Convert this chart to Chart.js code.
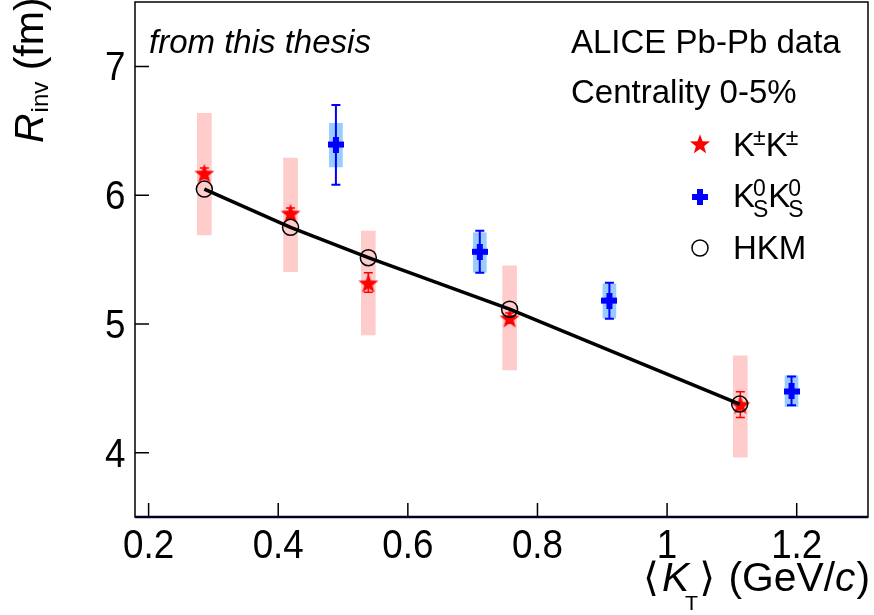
<!DOCTYPE html>
<html><head><meta charset="utf-8">
<script src="https://cdn.jsdelivr.net/npm/chart.js@4/dist/chart.umd.min.js"></script>
<style>html,body{margin:0;padding:0;background:#fff;}canvas{display:block;}</style>
</head><body>
<canvas id="c" width="874" height="615"></canvas>
<script>
// ---- data ----
const kT_KK   = [0.286, 0.419, 0.539, 0.757, 1.113];
const R_KK    = [6.168, 5.858, 5.316, 5.044, 4.372];
const statKK_lo = [6.13, 5.82, 5.246, 5.005, 4.272];
const statKK_hi = [6.21, 5.90, 5.398, 5.085, 4.472];
const sysKK_lo  = [5.690, 5.405, 4.915, 4.643, 3.964];
const sysKK_hi  = [6.636, 6.287, 5.721, 5.450, 4.752];

const kT_K0   = [0.489, 0.711, 0.911, 1.192];
const R_K0    = [6.393, 5.560, 5.181, 4.475];
const statK0_lo = [6.080, 5.398, 5.039, 4.367];
const statK0_hi = [6.700, 5.723, 5.320, 4.591];
const sysK0_lo  = [6.219, 5.401, 5.044, 4.357];
const sysK0_hi  = [6.558, 5.708, 5.310, 4.597];

const kT_HKM  = [0.286, 0.419, 0.539, 0.757, 1.112];
const R_HKM   = [6.047, 5.750, 5.514, 5.114, 4.377];

const xTicks = [0.2, 0.4, 0.6, 0.8, 1.0, 1.2];
const xTickLabels = ['0.2', '0.4', '0.6', '0.8', '1', '1.2'];
const yTicks = [4, 5, 6, 7];
const yTickLabels = ['4', '5', '6', '7'];

// ---- marker images ----
function starImg(color) {
  const c = document.createElement('canvas'); c.width = 22; c.height = 22;
  const g = c.getContext('2d'); g.fillStyle = color; g.beginPath();
  for (let i = 0; i < 10; i++) {
    const r = i % 2 === 0 ? 10.5 : 4.3;
    const a = -Math.PI / 2 + i * Math.PI / 5;
    const px = 11 + r * Math.cos(a), py = 11.8 + r * Math.sin(a);
    i === 0 ? g.moveTo(px, py) : g.lineTo(px, py);
  }
  g.closePath(); g.fill(); return c;
}
function crossImg(color) {
  const c = document.createElement('canvas'); c.width = 16; c.height = 16;
  const g = c.getContext('2d'); g.fillStyle = color;
  g.fillRect(0, 5, 16, 6); g.fillRect(5, 0, 6, 16); return c;
}
const STAR = starImg('#ff0000');
const CROSS = crossImg('#0000ff');

const FONT = '"Liberation Sans", Arial, "DejaVu Sans", sans-serif';

function errBars(chart, xs, lo, hi, color, lw, cap) {
  const ctx = chart.ctx, xs_ = chart.scales.x, ys_ = chart.scales.y;
  ctx.save(); ctx.strokeStyle = color; ctx.lineWidth = lw;
  for (let i = 0; i < xs.length; i++) {
    const px = xs_.getPixelForValue(xs[i]);
    const y1 = ys_.getPixelForValue(lo[i]), y2 = ys_.getPixelForValue(hi[i]);
    ctx.beginPath();
    ctx.moveTo(px, y1); ctx.lineTo(px, y2);
    ctx.moveTo(px - cap, y1); ctx.lineTo(px + cap, y1);
    ctx.moveTo(px - cap, y2); ctx.lineTo(px + cap, y2);
    ctx.stroke();
  }
  ctx.restore();
}

function narrowText(ctx, text, x, y, align, sc) {
  ctx.save(); ctx.translate(x, y); ctx.scale(sc, 1);
  ctx.textAlign = align; ctx.fillText(text, 0, 0); ctx.restore();
}

const decor = {
  id: 'decor',
  beforeDatasetDraw(chart, args) {
    if (args.index === 2) errBars(chart, kT_KK, statKK_lo, statKK_hi, '#ff0000', 1.5, 4.5);
    if (args.index === 3) errBars(chart, kT_K0, statK0_lo, statK0_hi, '#0000ff', 2, 4.5);
  },
  afterDraw(chart) {
    const ctx = chart.ctx, a = chart.chartArea, sx = chart.scales.x, sy = chart.scales.y;
    ctx.save();
    // frame
    ctx.strokeStyle = '#000'; ctx.lineWidth = 1.5;
    ctx.strokeRect(a.left, a.top, a.right - a.left, a.bottom - a.top);
    ctx.strokeStyle = '#000022'; ctx.lineWidth = 2.5;
    ctx.beginPath(); ctx.moveTo(a.left, a.bottom); ctx.lineTo(a.right, a.bottom); ctx.stroke();
    // ticks
    ctx.strokeStyle = '#000'; ctx.lineWidth = 1.5;
    ctx.beginPath();
    xTicks.forEach(v => { const p = sx.getPixelForValue(v); ctx.moveTo(p, a.bottom); ctx.lineTo(p, a.bottom - 14); });
    yTicks.forEach(v => { const p = sy.getPixelForValue(v); ctx.moveTo(a.left, p); ctx.lineTo(a.left + 14, p); });
    ctx.stroke();
    // tick labels
    ctx.fillStyle = '#000';
    ctx.font = '40px ' + FONT; ctx.textBaseline = 'alphabetic';
    xTicks.forEach((v, i) => narrowText(ctx, xTickLabels[i], sx.getPixelForValue(v), 558, 'center', 0.92));
    yTicks.forEach((v, i) => narrowText(ctx, yTickLabels[i], 125.5, sy.getPixelForValue(v) + 14, 'right', 0.92));
    ctx.textAlign = 'left';

    // x title
    const parts = [
      { t: '\u27E8', f: '40px ' + FONT, dy: 0 },
      { t: 'K', f: 'italic 40px ' + FONT, dy: 0, dx: 3 },
      { t: 'T', f: '21px ' + FONT, dy: 19, dx: -4 },
      { t: '\u27E9', f: '40px ' + FONT, dy: 0, dx: 1 },
      { t: ' (GeV/', f: '40px ' + FONT, dy: 0, dx: 2 },
      { t: 'c', f: 'italic 40px ' + FONT, dy: 0 },
      { t: ')', f: '40px ' + FONT, dy: 0, dx: 1 }
    ];
    let tot = 0;
    parts.forEach(p => { ctx.font = p.f; p.w = ctx.measureText(p.t).width; tot += p.w + (p.dx || 0); });
    const sc = Math.max(0.85, Math.min(1.05, 227 / tot));
    ctx.save(); ctx.translate(643, 591); ctx.scale(sc, 1);
    let cx = 0;
    parts.forEach(p => { ctx.font = p.f; cx += (p.dx || 0); ctx.fillText(p.t, cx, p.dy); cx += p.w; });
    ctx.restore();

    // y title
    ctx.save(); ctx.translate(43, 143); ctx.rotate(-Math.PI / 2);
    ctx.font = 'italic 41px ' + FONT; ctx.fillText('R', 0, 0);
    let yx = ctx.measureText('R').width + 1;
    ctx.font = '24px ' + FONT; ctx.fillText('inv', yx, 5);
    yx += ctx.measureText('inv').width;
    ctx.font = '41px ' + FONT; ctx.fillText(' (fm)', yx, 0);
    ctx.restore();

    // annotations
    ctx.font = 'italic 33px ' + FONT; ctx.fillText('from this thesis', 149, 53);
    ctx.font = '33px ' + FONT;
    ctx.fillText('ALICE Pb-Pb data', 571, 53);
    ctx.fillText('Centrality 0-5%', 571, 103);

    // legend
    ctx.drawImage(STAR, 700 - 11, 144 - 11);
    ctx.drawImage(CROSS, 700 - 8, 197 - 8);
    ctx.lineWidth = 1.5; ctx.strokeStyle = '#000';
    ctx.beginPath(); ctx.arc(700, 248, 8, 0, Math.PI * 2); ctx.stroke();

    function kWithScripts(x, y, sup, sub) {
      ctx.font = '33px ' + FONT; ctx.fillText('K', x, y);
      let w = ctx.measureText('K').width - 2;
      ctx.font = '23px ' + FONT;
      let sw = 0;
      if (sup) { ctx.fillText(sup, x + w, y - 11); sw = Math.max(sw, ctx.measureText(sup).width); }
      if (sub) { ctx.fillText(sub, x + w, y + 10); sw = Math.max(sw, ctx.measureText(sub).width); }
      return x + w + sw;
    }
    let lx = kWithScripts(733, 156, '\u00B1', null);
    kWithScripts(lx, 156, '\u00B1', null);
    lx = kWithScripts(733, 207, '0', 'S');
    kWithScripts(lx, 207, '0', 'S');
    ctx.font = '33px ' + FONT; ctx.fillText('HKM', 733, 259);
    ctx.restore();
  }
};

new Chart(document.getElementById('c'), {
  data: {
    datasets: [
      { type: 'bar', data: kT_KK.map((x, i) => ({ x, y: [sysKK_lo[i], sysKK_hi[i]] })),
        backgroundColor: '#ffcccc', borderWidth: 0, barThickness: 14, grouped: false, order: 5 },
      { type: 'bar', data: kT_K0.map((x, i) => ({ x, y: [sysK0_lo[i], sysK0_hi[i]] })),
        backgroundColor: '#99ccff', borderWidth: 0, barThickness: 13, grouped: false, order: 4 },
      { type: 'scatter', data: kT_KK.map((x, i) => ({ x, y: R_KK[i] })),
        pointStyle: STAR, order: 3 },
      { type: 'scatter', data: kT_K0.map((x, i) => ({ x, y: R_K0[i] })),
        pointStyle: CROSS, order: 2 },
      { type: 'line', data: kT_HKM.map((x, i) => ({ x, y: R_HKM[i] })),
        borderColor: '#000', borderWidth: 3.5, backgroundColor: 'rgba(0,0,0,0)',
        pointStyle: 'circle', pointRadius: 8, pointBorderWidth: 1.5,
        pointBorderColor: '#000', pointBackgroundColor: 'rgba(0,0,0,0)', tension: 0, order: 1 }
    ]
  },
  options: {
    responsive: false, animation: false, devicePixelRatio: 1,
    layout: { autoPadding: false, padding: { left: 135, right: 6, top: 2, bottom: 98 } },
    plugins: { legend: { display: false }, tooltip: { enabled: false } },
    scales: {
      x: { type: 'linear', min: 0.179, max: 1.31, offset: false,
           grid: { display: false, drawTicks: false }, border: { display: false },
           ticks: { display: false }, afterFit(s) { s.height = 0; } },
      y: { type: 'linear', min: 3.5, max: 7.5,
           grid: { display: false, drawTicks: false }, border: { display: false },
           ticks: { display: false }, afterFit(s) { s.width = 0; } }
    }
  },
  plugins: [decor]
});
</script>
</body></html>
